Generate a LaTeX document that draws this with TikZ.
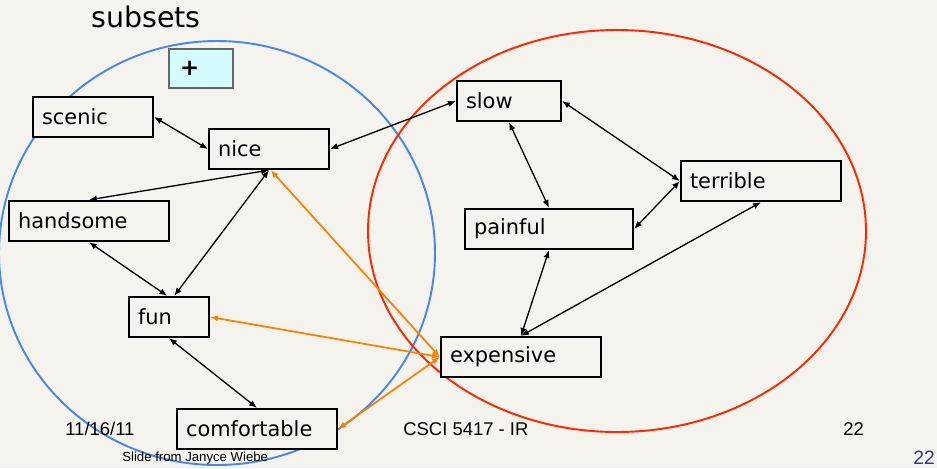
\documentclass[tikz,border=0pt]{standalone}
\usepackage{fontspec}
\setmainfont{DejaVu Sans}
\newfontfamily\footfont{Liberation Sans}
\usetikzlibrary{shadows,arrows.meta}
\definecolor{bg}{RGB}{244,243,237}
\definecolor{setblue}{RGB}{74,134,240}
\definecolor{setred}{RGB}{255,40,0}
\definecolor{linkorange}{RGB}{255,128,0}
\definecolor{plusfill}{RGB}{212,252,252}
\definecolor{pagenum}{RGB}{51,51,153}
\begin{document}
\begin{tikzpicture}[>={Latex[length=4.5pt,width=3.6pt]}, x=0.02cm, y=-0.02cm,
  word/.style={draw, line width=1.3pt, fill=bg, minimum height=0.8cm, inner xsep=0.18cm,
    text width=#1, align=left, font=\fontsize{11.9}{14}\selectfont,
    drop shadow={shadow xshift=0.6pt, shadow yshift=-0.8pt, fill=gray, opacity=0.7}},
  link/.style={<->, line width=0.75pt},
  hot/.style={<->, line width=1pt, linkorange},
  foot/.style={font=\footfont\fontsize{10.5}{12}\selectfont, anchor=base west, inner sep=0pt}]
\useasboundingbox (0,0) rectangle (937,468);
\fill[bg] (0,0) rectangle (937,468);
\draw[setblue, line width=1.1pt] (217,253) ellipse [x radius=218, y radius=212];
\draw[setred, line width=1.1pt] (617,231) ellipse [x radius=249, y radius=201];
\node at (91,27)[anchor=base west, inner sep=0pt, font=\fontsize{16.2}{18}\selectfont]{subsets};
\node (plus) at (201,68.5)[draw=black!60, line width=0.8pt, fill=plusfill, minimum width=1.28cm,
  minimum height=0.78cm, inner xsep=0.22cm, text width=0.84cm, align=left,
  font=\bfseries\fontsize{13}{14}\selectfont]{+};
\node (scenic) at (93,117)[word=2.04cm]{scenic};
\node (nice) at (269,149)[word=2.04cm]{nice};
\node (handsome) at (89,221)[word=2.84cm]{handsome};
\node (fun) at (169,317)[word=1.24cm]{fun};
\node (comfortable) at (257,429)[word=2.84cm]{comfortable};
\node (slow) at (509,101)[word=1.72cm]{slow};
\node (terrible) at (761,181)[word=2.84cm]{terrible};
\node (painful) at (549,229)[word=3.0cm]{painful};
\node (expensive) at (521,357)[word=2.84cm]{expensive};
\draw[link] (scenic.east)--(nice.west);
\draw[link] (nice.east)--(slow.west);
\draw[link] (nice.south)--(handsome.north);
\draw[link] (nice.south)--([xshift=3pt]fun.north);
\draw[link] (handsome.south)--([xshift=-1pt]fun.north);
\draw[link] (fun.south)--(comfortable.north);
\draw[link] (slow.south)--(painful.north);
\draw[link] (slow.east)--(terrible.west);
\draw[link] (painful.east)--(terrible.west);
\draw[link] (painful.south)--(expensive.north);
\draw[link] (expensive.north)--(terrible.south);
\draw[hot] ([xshift=1pt]nice.south)--(expensive.west);
\draw[hot] (fun.east)--(expensive.west);
\draw[hot] (comfortable.east)--(expensive.west);
\node at (65,435)[foot]{11/16/11};
\node at (403,435)[foot]{CSCI 5417 - IR};
\node at (843,435)[foot]{22};
\node at (122,461)[foot, font=\footfont\fontsize{7.5}{9}\selectfont]{Slide from Janyce Wiebe};
\node at (913,464)[foot, text=pagenum, font=\footfont\fontsize{11}{12}\selectfont]{22};
\end{tikzpicture}
\end{document}
